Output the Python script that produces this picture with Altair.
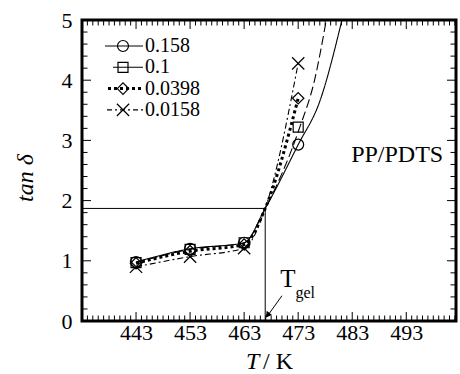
import altair as alt
import pandas as pd
import numpy as np

# ---------------- data ----------------
series = ["0.158", "0.1", "0.0398", "0.0158"]
T_pts = [443, 453, 463, 473]
tan_0158 = [0.98, 1.20, 1.30, 2.93]
tan_01 = [0.97, 1.19, 1.30, 3.22]
tan_00398 = [0.96, 1.16, 1.27, 3.70]
tan_00158 = [0.90, 1.07, 1.21, 4.28]

# fitted curves
curve_T_0158 = [443, 453, 463, 466.9, 473, 477, 481.1]
curve_y_0158 = [0.98, 1.20, 1.30, 1.87, 2.93, 3.65, 5.0]
curve_T_01 = [443, 453, 463, 466.9, 473.3, 476.0, 478.2]
curve_y_01 = [0.97, 1.19, 1.30, 1.87, 3.22, 3.99, 5.0]
curve_T_00398 = [443, 453, 463, 466.9, 473]
curve_y_00398 = [0.96, 1.16, 1.27, 1.87, 3.70]
curve_T_00158 = [443, 453, 463, 466.9, 473]
curve_y_00158 = [0.90, 1.07, 1.21, 1.87, 4.28]

T_gel = 466.9
tan_gel = 1.87
x_ticks = [443, 453, 463, 473, 483, 493]
y_ticks = [0, 1, 2, 3, 4, 5]
x_domain = [433, 502.2]
y_domain = [0, 5]

# ---------------- layout / style ----------------
W, H = 374, 301
FONT = "Liberation Serif"
X_PATH = "M-1,-1L1,1M-1,1L1,-1"
TICK_COLOR = "black"

xs = alt.Scale(domain=x_domain, nice=False, zero=False)
ys = alt.Scale(domain=y_domain, nice=False, zero=False)
xa = alt.Axis(values=x_ticks, title=None, format="d", labelPadding=1, labelOverlap=False,
              ticks=False, domain=False, grid=False, labelFont=FONT, labelFontSize=22,
              labelColor="black")
ya = alt.Axis(values=y_ticks, title=None, format="d", labelPadding=10, labelOverlap=False,
              ticks=False, domain=False, grid=False, labelFont=FONT, labelFontSize=22,
              labelColor="black")


def X(f):
    return alt.X(f, scale=xs, axis=xa)


def Y(f):
    return alt.Y(f, scale=ys, axis=ya)


styles = {
    "0.158": dict(dash=[1, 0], width=1.1, shape="circle", size=120, legdash=[1, 0]),
    "0.1": dict(dash=[9, 4], width=1.1, shape="square", size=100, legdash=[1, 0]),
    "0.0398": dict(dash=[3, 3], width=3, shape="diamond", size=130, legdash=[3, 3]),
    "0.0158": dict(dash=[6, 3, 2, 3], width=1.1, shape=X_PATH, size=150, legdash=[5, 3, 2, 3]),
}
curves = {
    "0.158": (curve_T_0158, curve_y_0158, tan_0158),
    "0.1": (curve_T_01, curve_y_01, tan_01),
    "0.0398": (curve_T_00398, curve_y_00398, tan_00398),
    "0.0158": (curve_T_00158, curve_y_00158, tan_00158),
}

one = pd.DataFrame({"d": [0]})
layers = []

# reference lines at the gel point
ref_h = pd.DataFrame({"x0": [x_domain[0]], "x1": [T_gel], "y": [tan_gel]})
layers.append(alt.Chart(ref_h).mark_rule(color="black", strokeWidth=1).encode(
    x=X("x0:Q"), x2="x1:Q", y=Y("y:Q")))
ref_v = pd.DataFrame({"x": [T_gel], "y0": [0], "y1": [tan_gel]})
layers.append(alt.Chart(ref_v).mark_rule(color="black", strokeWidth=1).encode(
    x=X("x:Q"), y=Y("y0:Q"), y2="y1:Q"))

# inward ticks on all four sides
x_major = pd.DataFrame({"tx": x_ticks})
x_minor = pd.DataFrame({"tx": [float(v) for v in np.arange(434, 503) if v not in x_ticks]})
y_major = pd.DataFrame({"ty": y_ticks})
y_minor = pd.DataFrame({"ty": [round(float(v), 1) for v in np.arange(0.2, 5.0, 0.2)
                               if abs(v - round(v)) > 1e-6]})
for df, ln in [(x_major, 9), (x_minor, 5.5)]:
    for (a, b) in [(H, H - ln), (0, ln)]:
        layers.append(alt.Chart(df).mark_rule(color=TICK_COLOR, strokeWidth=1).encode(
            x=X("tx:Q"), y=alt.value(a), y2=alt.value(b)))
for df, ln in [(y_major, 9), (y_minor, 5.5)]:
    for (a, b) in [(0, ln), (W, W - ln)]:
        layers.append(alt.Chart(df).mark_rule(color=TICK_COLOR, strokeWidth=1).encode(
            y=Y("ty:Q"), x=alt.value(a), x2=alt.value(b)))

# curves and markers
for s in series:
    cT, cy, py = curves[s]
    st = styles[s]
    cdf = pd.DataFrame({"T": cT, "tan": cy})
    layers.append(alt.Chart(cdf).mark_line(
        interpolate="monotone", clip=True, color="black",
        strokeWidth=st["width"], strokeDash=st["dash"]).encode(
        x=X("T:Q"), y=Y("tan:Q")))
    pdf = pd.DataFrame({"T": T_pts, "tan": py})
    layers.append(alt.Chart(pdf).mark_point(
        shape=st["shape"], size=st["size"], filled=False, color="black",
        strokeWidth=1.2, opacity=1).encode(
        x=X("T:Q"), y=Y("tan:Q")))

# legend (top-left, inside plot)
row0, step = 26, 21.3
leg_x0 = {"0.158": 23, "0.1": 31, "0.0398": 26, "0.0158": 25}
for i, s in enumerate(series):
    st = styles[s]
    yy = row0 + i * step
    layers.append(alt.Chart(one).mark_rule(
        color="black", strokeWidth=st["width"], strokeDash=st["legdash"]).encode(
        x=alt.value(leg_x0[s]), x2=alt.value(61), y=alt.value(yy)))
    layers.append(alt.Chart(one).mark_point(
        shape=st["shape"], size=st["size"], filled=False, color="black",
        strokeWidth=1.2, opacity=1).encode(x=alt.value(41), y=alt.value(yy)))
leg_df = pd.DataFrame({"label": series, "ly": [row0 + i * step for i in range(len(series))]})
layers.append(alt.Chart(leg_df).mark_text(
    font=FONT, fontSize=20, align="left", baseline="middle", color="black").encode(
    x=alt.value(63), y=alt.Y("ly:Q", scale=None), text="label:N"))

# annotations
layers.append(alt.Chart(pd.DataFrame({"T": [482.8], "tan": [2.64], "txt": ["PP/PDTS"]})).mark_text(
    font=FONT, fontSize=24, align="left", baseline="alphabetic", color="black").encode(
    x=X("T:Q"), y=Y("tan:Q"), text="txt:N"))
layers.append(alt.Chart(pd.DataFrame({"T": [469.7], "tan": [0.565], "txt": ["T"]})).mark_text(
    font=FONT, fontSize=25, align="left", baseline="alphabetic", color="black").encode(
    x=X("T:Q"), y=Y("tan:Q"), text="txt:N"))
layers.append(alt.Chart(pd.DataFrame({"T": [472.5], "tan": [0.38], "txt": ["gel"]})).mark_text(
    font=FONT, fontSize=16, align="left", baseline="alphabetic", color="black").encode(
    x=X("T:Q"), y=Y("tan:Q"), text="txt:N"))
# arrow to T_gel
arr = pd.DataFrame({"x0": [470.0], "y0": [0.42], "x1": [467.2], "y1": [0.07]})
layers.append(alt.Chart(arr).mark_rule(color="black", strokeWidth=1).encode(
    x=X("x0:Q"), y=Y("y0:Q"), x2="x1:Q", y2="y1:Q"))
layers.append(alt.Chart(pd.DataFrame({"x": [467.45], "y": [0.11]})).mark_point(
    shape="triangle", filled=True, color="black",
    size=45, angle=218, opacity=1).encode(x=X("x:Q"), y=Y("y:Q")))

# axis titles
layers.append(alt.Chart(one).mark_text(
    text="T", font=FONT, fontSize=24, fontStyle="italic", align="left",
    baseline="alphabetic", color="black").encode(x=alt.value(164), y=alt.value(349)))
layers.append(alt.Chart(one).mark_text(
    text="/ K", font=FONT, fontSize=24, align="left",
    baseline="alphabetic", color="black").encode(x=alt.value(181), y=alt.value(349)))
layers.append(alt.Chart(one).mark_text(
    text="tan δ", font=FONT, fontSize=24, fontStyle="italic", align="center",
    baseline="alphabetic", angle=270, color="black").encode(x=alt.value(-49), y=alt.value(158)))

chart = alt.layer(*layers).properties(
    width=W, height=H,
    padding={"left": 82, "top": 20, "right": 4, "bottom": 53},
    autosize=alt.AutoSizeParams(type="none"),
).configure_view(
    stroke="black", strokeWidth=3
)

chart.save("out.html", embed_options={"renderer": "svg", "actions": False})
